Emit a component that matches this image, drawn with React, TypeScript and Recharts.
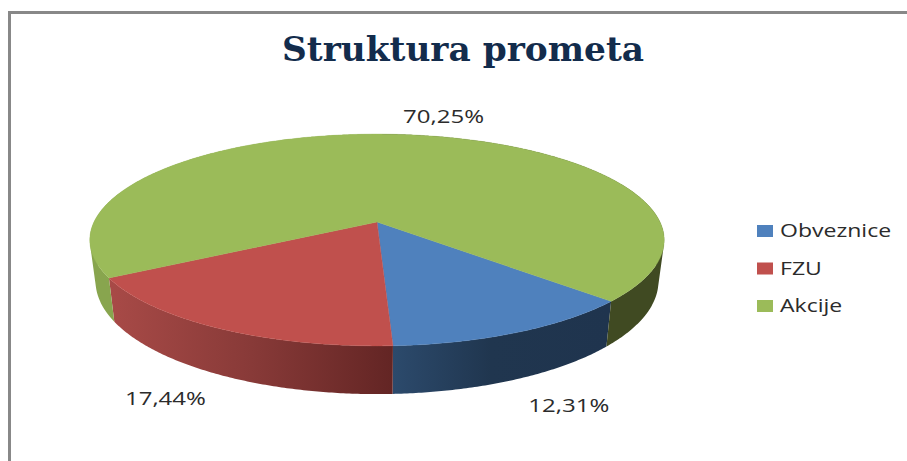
import React from "react";
import { PieChart, Pie, Legend } from "recharts";

const categories = ["Obveznice", "FZU", "Akcije"];
const shares = [12.31, 17.44, 70.25];
const shareLabels = ["12,31%", "17,44%", "70,25%"];
const topColors = ["#4F81BD", "#C0504D", "#9BBB59"];
const wallFills = ["url(#wallBlue)", "url(#wallRed)", "url(#wallGreen)"];
const titleText = "Struktura prometa";

const rows = categories.map((name, i) => ({ name, value: shares[i], top: topColors[i], wall: wallFills[i], label: shareLabels[i] }));

// Perspective projection of the flat pie disc onto the page.
const TILT = -0.17;
const FLATTEN = 0.23;
const DEPTH = 40;
const BASE_SHRINK = 0.98;
type Pt = { x: number; y: number };
const project = (cx: number, cy: number, r: number, deg: number, base = false): Pt => {
  const t = (-deg * Math.PI) / 180;
  const u = Math.cos(t);
  const v = Math.sin(t);
  const w = 1 + TILT * v;
  return {
    x: cx + ((base ? BASE_SHRINK : 1) * r * u) / w,
    y: (cy + (base ? DEPTH : 0) + FLATTEN * r * v) / w,
  };
};
const samples = (a: number, b: number) => {
  const n = Math.max(2, Math.ceil(Math.abs(b - a) * 2));
  return Array.from({ length: n + 1 }, (_, i) => a + ((b - a) * i) / n);
};
const toPath = (pts: Pt[]) =>
  pts.map((p, i) => `${i ? "L" : "M"}${p.x.toFixed(2)},${p.y.toFixed(2)}`).join("") + "Z";
const area = (q: Pt[]) =>
  q.reduce((s, p, i) => {
    const n = q[(i + 1) % q.length];
    return s + p.x * n.y - n.x * p.y;
  }, 0);

const TopFace = (p: any) => {
  const { cx, cy, outerRadius: r, startAngle, endAngle, payload } = p;
  const pts = [{ x: cx, y: cy }, ...samples(startAngle, endAngle).map((d) => project(cx, cy, r, d))];
  const fill = payload?.top ?? p.top;
  return <path d={toPath(pts)} fill={fill} stroke={fill} strokeWidth={0.4} />;
};
const Wall = (p: any) => {
  const { cx, cy, outerRadius: r, startAngle, endAngle, payload } = p;
  const s = samples(startAngle, endAngle);
  let d = "";
  for (let i = 0; i + 1 < s.length; i++) {
    const q = [
      project(cx, cy, r, s[i]),
      project(cx, cy, r, s[i + 1]),
      project(cx, cy, r, s[i + 1], true),
      project(cx, cy, r, s[i], true),
    ];
    d += toPath(area(q) < 0 ? [...q].reverse() : q);
  }
  return <path d={d} fill={payload?.wall ?? p.wall} stroke="none" />;
};

const LABEL_NUDGE = [
  { x: 54, y: 25 },
  { x: -55, y: 22 },
  { x: 39, y: -19 },
];
const renderLabel = (p: any) => {
  const { cx, cy, outerRadius, midAngle, index } = p;
  const q = project(cx, cy, outerRadius, midAngle, index !== 2);
  return (
    <text
      x={q.x + LABEL_NUDGE[index].x}
      y={q.y + LABEL_NUDGE[index].y}
      textAnchor="middle"
      dominantBaseline="central"
      fontFamily="'Open Sans'"
      fontSize={18.5}
      fill="#2b2b2b"
      textLength={81}
      lengthAdjust="spacingAndGlyphs"
    >
      {rows[index].label}
    </text>
  );
};

const LegendBox = ({ payload }: any) => {
  const items = (payload ?? []).filter((e: any) => e.type !== "none").slice(-categories.length);
  return (
    <svg width={150} height={112} style={{ display: "block" }}>
      {categories.map((name, i) => {
        const e = items.find((it: any) => it.value === name);
        return (
          <g key={name} transform={`translate(0,${i * 37.5})`}>
            <rect x={0} y={2} width={16} height={12} fill={e?.payload?.top ?? topColors[i]} />
            <text
              transform="translate(23,14) scale(1.28,1)"
              fontFamily="'Open Sans'"
              fontSize={18}
              fill="#2b2b2b"
            >
              {name}
            </text>
          </g>
        );
      })}
    </svg>
  );
};

export default function App() {
  return (
    <div style={{ position: "fixed", left: 0, top: 0, width: 907, height: 461, background: "#fff", overflow: "hidden" }}>
      <div style={{ position: "absolute", left: 8, top: 11, width: 899, height: 450, borderLeft: "3px solid #888", borderTop: "3px solid #888", boxSizing: "border-box" }} />
      <div style={{ position: "absolute", left: 0, top: 0 }}>
        <PieChart width={907} height={461} margin={{ top: 0, right: 0, bottom: 0, left: 0 }}>
          <defs>
            <linearGradient id="wallRed" gradientUnits="userSpaceOnUse" x1={110} y1={0} x2={393} y2={0}>
              <stop offset="0" stopColor="#A84A47" />
              <stop offset="0.5" stopColor="#883A38" />
              <stop offset="1" stopColor="#632524" />
            </linearGradient>
            <linearGradient id="wallBlue" gradientUnits="userSpaceOnUse" x1={393} y1={0} x2={610} y2={0}>
              <stop offset="0" stopColor="#2C4A6C" />
              <stop offset="0.45" stopColor="#20364F" />
              <stop offset="1" stopColor="#1F344E" />
            </linearGradient>
            <linearGradient id="wallGreen" gradientUnits="userSpaceOnUse" x1={90} y1={0} x2={664} y2={0}>
              <stop offset="0" stopColor="#88A54E" />
              <stop offset="0.5" stopColor="#88A54E" />
              <stop offset="0.5" stopColor="#404A22" />
              <stop offset="1" stopColor="#404A22" />
            </linearGradient>
          </defs>
          <text
            x={463}
            y={61}
            textAnchor="middle"
            fontFamily="'DejaVu Serif'"
            fontWeight="bold"
            fontSize={33}
            fill="#132C4C"
            textLength={362}
            lengthAdjust="spacingAndGlyphs"
          >
            {titleText}
          </text>
          <Pie
            data={rows}
            dataKey="value"
            nameKey="name"
            cx={377}
            cy={222}
            outerRadius={283}
            startAngle={-43}
            endAngle={-403}
            stroke="none"
            legendType="none"
            isAnimationActive={false}
            shape={Wall}
            fill="#888"
          />
          <Pie
            data={rows}
            dataKey="value"
            nameKey="name"
            cx={377}
            cy={222}
            outerRadius={283}
            startAngle={-43}
            endAngle={-403}
            stroke="none"
            isAnimationActive={false}
            shape={TopFace}
            label={renderLabel}
            labelLine={false}
            fill="#888"
          />
          <Legend
            layout="vertical"
            itemSorter={null as any}
            content={LegendBox as any}
            wrapperStyle={{ position: "absolute", left: 757, top: 223, width: 150, height: 112 }}
          />
        </PieChart>
      </div>
    </div>
  );
}
